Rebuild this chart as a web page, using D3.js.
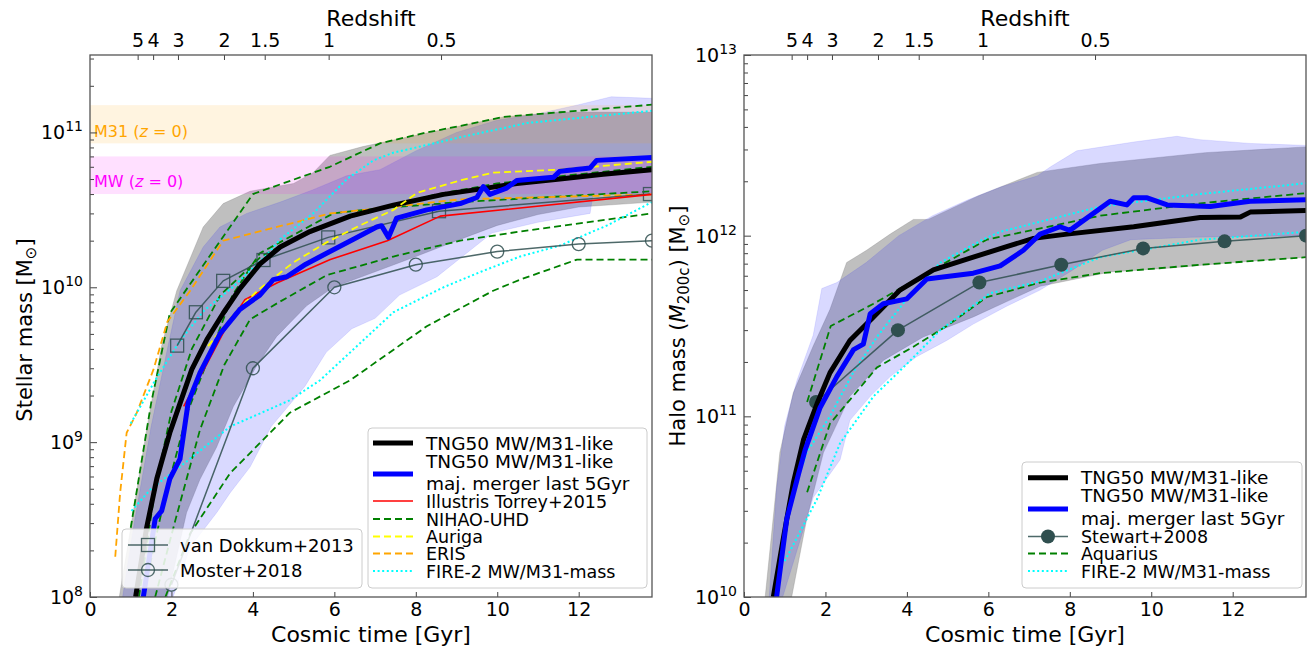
<!DOCTYPE html>
<html>
<head>
<meta charset="utf-8">
<script src="https://cdn.jsdelivr.net/npm/d3@7"></script>
<style>
  body { margin: 0; background: #fff; }
  svg text { font-family: "DejaVu Sans", sans-serif; }
</style>
</head>
<body>
<svg class="chart"></svg>
<script>
//-----------------------------------------------------------------------
// stellar mass + halo mass growth of MW/M31-like galaxies
//-----------------------------------------------------------------------

// ---------- redshift axis (top) ----------
const zLabels = ['5', '4', '3', '2', '1.5', '1', '0.5']
const zTimes  = [1.17, 1.55, 2.16, 3.29, 4.29, 5.86, 8.62]   // Gyr

// ---------- left panel: stellar mass [Msun] ----------
const tngTime  = [1.12, 1.39, 1.64, 1.96, 2.21, 2.5, 2.87, 3.27, 3.68, 4.17, 4.67, 5.4, 6.39, 7.45, 8.68, 9.74, 10.48, 11.54, 12.6, 13.8]
const tngMstar = [1.0e8, 2.8e8, 5.8e8, 1.15e9, 1.78e9, 2.95e9, 4.6e9, 6.8e9, 9.8e9, 1.41e10, 1.82e10, 2.29e10, 2.88e10, 3.39e10, 3.98e10, 4.37e10, 4.68e10, 5.0e10, 5.37e10, 5.75e10]

const mergerTime  = [1.31, 1.6, 1.76, 1.96, 2.21, 2.41, 2.7, 3.19, 3.68, 4.17, 4.5, 4.83, 5.3, 5.81, 6.47, 7.04, 7.16, 7.33, 7.53, 8.27, 9.09, 9.5, 9.66, 9.82, 10.23, 10.48, 11.38, 11.54, 12.28, 12.44, 13.8]
const mergerMstar = [1.0e8, 3.2e8, 3.6e8, 5.8e8, 7.8e8, 1.8e9, 2.8e9, 5.0e9, 7.2e9, 8.9e9, 1.12e10, 1.17e10, 1.41e10, 1.66e10, 2.04e10, 2.45e10, 2.5e10, 2.1e10, 2.8e10, 3.16e10, 3.47e10, 3.8e10, 4.47e10, 3.98e10, 4.37e10, 4.9e10, 5.13e10, 5.62e10, 5.9e10, 6.6e10, 6.9e10]

// 16-84 percentile envelopes
const tngBandTopTime = [0.72, 1.06, 1.39, 1.76, 2.13, 2.78, 3.27, 3.93, 5.0, 5.48, 5.89, 6.7, 7.86, 9.09, 10.15, 11.54, 13.8]
const tngBandTop     = [1.0e8, 3.5e8, 1.2e9, 4.2e9, 9.5e9, 2.45e10, 3.47e10, 4.17e10, 4.68e10, 5.5e10, 7.1e10, 8.1e10, 9.4e10, 1.1e11, 1.26e11, 1.35e11, 1.35e11]
const tngBandBotTime = [1.9, 2.37, 2.7, 3.11, 3.52, 4.09, 4.58, 5.32, 5.97, 7.0, 8.0, 9.0, 10.0, 11.0, 12.0, 13.8]
const tngBandBot     = [1.0e8, 3.5e8, 5.75e8, 9.3e8, 1.7e9, 3.1e9, 4.8e9, 7.6e9, 1.0e10, 1.26e10, 1.58e10, 2.0e10, 2.51e10, 2.95e10, 3.3e10, 3.55e10]

const mergerBandTopTime = [0.8, 1.1, 1.5, 1.9, 2.21, 2.78, 3.19, 3.85, 4.67, 5.48, 6.3, 7.12, 8.0, 9.0, 10.0, 11.0, 12.0, 12.8, 13.8]
const mergerBandTop     = [1.0e8, 3.16e8, 1.26e9, 4.0e9, 9.5e9, 1.82e10, 2.45e10, 3.0e10, 3.55e10, 4.27e10, 5.25e10, 5.75e10, 7.6e10, 1.0e11, 1.2e11, 1.32e11, 1.51e11, 1.7e11, 1.66e11]
const mergerBandBotTime = [2.04, 2.46, 3.11, 3.44, 3.93, 4.45, 5.28, 5.8, 6.43, 7.0, 7.6, 8.52, 9.87, 11.0, 12.28, 12.35, 13.8]
const mergerBandBot     = [1.0e8, 2.1e8, 3.5e8, 4.7e8, 6.9e8, 1.26e9, 2.3e9, 3.8e9, 5.4e9, 6.3e9, 8.9e9, 1.17e10, 2.24e10, 2.63e10, 3.0e10, 3.98e10, 4.07e10]

// present day MW / M31 stellar mass ranges
const m31Range = [8.5e10, 1.5e11]
const mwRange  = [4.0e10, 7.0e10]

const illustrisTime  = [2.3, 2.8, 3.3, 3.8, 4.6, 5.9, 7.3, 8.6, 13.8]
const illustrisMstar = [1.7e9, 2.95e9, 5.25e9, 8.3e9, 1.07e10, 1.51e10, 2.0e10, 2.88e10, 3.98e10]

const nihaoTimes = [
  [1.0, 1.5, 1.96, 4.0, 5.89, 7.12, 8.27, 9.09, 10.15, 11.54, 13.8],
  [1.2, 1.6, 2.0, 2.5, 3.2, 4.2, 5.5, 7.0, 8.5, 10.0, 12.0, 13.8],
  [1.3, 1.8, 2.4, 3.0, 3.5, 4.17, 5.97, 7.12, 9.09, 13.8],
  [1.6, 2.1, 2.7, 3.3, 3.93, 4.6, 5.82, 7.45, 9.09, 10.56, 13.8],
  [1.85, 2.46, 3.44, 4.91, 6.39, 8.27, 9.9, 10.56, 11.96, 13.8]
]
const nihaoMstar = [
  [2.8e8, 1.78e9, 6.8e9, 4.0e10, 6.0e10, 8.5e10, 1.0e11, 1.1e11, 1.26e11, 1.35e11, 1.51e11],
  [1.0e8, 5.0e8, 1.58e9, 4.0e9, 8.9e9, 1.58e10, 2.4e10, 3.16e10, 3.98e10, 4.68e10, 5.37e10, 6.0e10],
  [1.0e8, 4.0e8, 1.58e9, 4.0e9, 8.9e9, 1.66e10, 3.0e10, 3.24e10, 3.55e10, 4.17e10],
  [1.0e8, 3.16e8, 1.2e9, 3.16e9, 6.2e9, 7.9e9, 1.2e10, 1.58e10, 2.0e10, 2.29e10, 3.0e10],
  [1.0e8, 2.57e8, 6.3e8, 1.55e9, 2.51e9, 5.6e9, 9.5e9, 1.12e10, 1.51e10, 1.51e10]
]

const aurigaTime  = [2.9, 3.6, 4.17, 5.0, 5.81, 6.63, 7.45, 8.03, 9.09, 9.9, 11.5, 13.8]
const aurigaMstar = [4.17e9, 7.08e9, 9.8e9, 1.45e10, 1.95e10, 2.51e10, 3.16e10, 4.07e10, 4.9e10, 5.5e10, 5.75e10, 6.46e10]

const erisTime  = [0.62, 0.74, 0.9, 1.15, 1.56, 1.9, 2.46, 3.27, 5.9, 7.1, 9.1, 13.8]
const erisMstar = [1.82e8, 4.7e8, 1.15e9, 1.55e9, 2.95e9, 6.0e9, 9.5e9, 2.0e10, 3.0e10, 3.24e10, 3.7e10, 3.98e10]

const fireStarTimes = [
  [1.0, 1.6, 2.2, 2.8, 3.5, 4.3, 4.67, 5.48, 6.31, 6.96, 7.45, 9.09, 10.73, 13.8],
  [1.02, 1.5, 2.2, 3.44, 4.9, 5.65, 6.39, 7.45, 8.68, 9.6, 10.56, 11.54, 12.7, 13.8]
]
const fireStarMass = [
  [1.32e9, 2.51e9, 4.47e9, 7.08e9, 1.0e10, 1.58e10, 2.04e10, 3.0e10, 5.0e10, 6.6e10, 7.4e10, 9.3e10, 1.15e11, 1.38e11],
  [3.6e8, 5.0e8, 6.9e8, 1.26e9, 1.86e9, 2.51e9, 3.8e9, 6.9e9, 1.0e10, 1.26e10, 1.58e10, 1.86e10, 2.51e10, 3.55e10]
]

const vanDokkumTime  = [2.14, 2.6, 3.27, 4.26, 5.85, 8.57, 13.75]
const vanDokkumMstar = [4.2e9, 6.9e9, 1.1e10, 1.5e10, 2.1e10, 3.1e10, 4.0e10]

const mosterTime  = [2.0, 4.0, 6.0, 8.0, 10.0, 12.0, 13.8]
const mosterMstar = [1.2e8, 3.0e9, 1.0e10, 1.4e10, 1.7e10, 1.9e10, 2.0e10]

// ---------- right panel: halo mass M200c [Msun] ----------
const tngHaloTime = [0.72, 0.97, 1.21, 1.46, 1.79, 2.11, 2.6, 3.18, 3.83, 4.65, 5.63, 6.45, 7.11, 7.93, 9.57, 11.2, 12.19, 12.43, 13.8]
const tngHalo     = [1.0e10, 2.14e10, 4.27e10, 7.4e10, 1.17e11, 1.74e11, 2.63e11, 3.55e11, 5.0e11, 6.46e11, 7.6e11, 8.7e11, 9.66e11, 1.02e12, 1.12e12, 1.26e12, 1.27e12, 1.35e12, 1.38e12]

const mergerHaloTime = [0.8, 1.05, 1.34, 1.5, 1.87, 2.28, 2.69, 2.93, 3.1, 3.42, 4.0, 4.49, 5.63, 6.29, 6.86, 7.27, 7.76, 8.0, 8.99, 9.4, 9.57, 9.9, 10.39, 11.45, 12.43, 13.8]
const mergerHalo     = [1.0e10, 2.7e10, 4.8e10, 6.5e10, 1.12e11, 1.66e11, 2.34e11, 2.51e11, 3.7e11, 4.2e11, 4.47e11, 5.75e11, 6.2e11, 6.8e11, 8.3e11, 1.02e12, 1.12e12, 1.07e12, 1.55e12, 1.48e12, 1.62e12, 1.62e12, 1.48e12, 1.45e12, 1.55e12, 1.58e12]

const tngHaloTopTime = [0.52, 0.88, 1.21, 1.7, 2.11, 2.52, 3.01, 3.59, 4.16, 4.52, 5.75, 7.2, 8.75, 11.33, 13.8]
const tngHaloTop     = [1.0e10, 6.3e10, 1.35e11, 2.45e11, 3.9e11, 7.1e11, 8.3e11, 1.02e12, 1.23e12, 1.23e12, 1.66e12, 2.24e12, 2.51e12, 2.88e12, 3.1e12]
const tngHaloBotTime = [1.17, 1.54, 1.95, 2.6, 3.42, 4.4, 5.63, 7.27, 9.0, 10.4, 12.0, 13.8]
const tngHaloBot     = [1.0e10, 2.7e10, 6.3e10, 1.29e11, 2.04e11, 2.75e11, 3.55e11, 5.25e11, 6.3e11, 6.6e11, 7.1e11, 7.6e11]

const mergerHaloTopTime = [0.62, 0.8, 1.0, 1.3, 1.7, 1.91, 2.28, 3.0, 3.8, 4.63, 5.5, 6.3, 7.2, 7.52, 8.17, 9.57, 10.63, 11.2, 12.43, 13.8]
const mergerHaloTop     = [1.0e10, 4.0e10, 8.9e10, 1.58e11, 2.82e11, 5.1e11, 5.5e11, 7.1e11, 1.0e12, 1.29e12, 1.58e12, 1.86e12, 2.14e12, 2.4e12, 2.95e12, 3.3e12, 3.55e12, 3.4e12, 3.24e12, 3.16e12]
const mergerHaloBotTime = [0.95, 1.7, 2.36, 2.6, 3.1, 3.59, 4.24, 4.98, 5.63, 6.45, 7.27, 8.0, 8.8, 9.5, 11.0, 13.8]
const mergerHaloBot     = [1.0e10, 3.55e10, 5.75e10, 9.5e10, 1.29e11, 1.66e11, 2.14e11, 2.63e11, 3.24e11, 4.07e11, 5.0e11, 6.3e11, 8.3e11, 9.5e11, 9.8e11, 1.0e12]

const stewartTime = [1.77, 3.78, 5.78, 7.79, 9.8, 11.8, 13.8]
const stewartHalo = [1.2e11, 3.0e11, 5.5e11, 6.9e11, 8.5e11, 9.3e11, 1.0e12]

const aquariusTimes = [
  [1.55, 2.13, 3.18, 4.49, 5.96, 8.75, 11.2, 13.8],
  [1.55, 2.11, 3.26, 4.16, 4.98, 5.96, 7.27, 8.75, 11.2, 13.8]
]
const aquariusHalo = [
  [1.2e11, 3.16e11, 4.2e11, 6.2e11, 9.5e11, 1.29e12, 1.51e12, 1.72e12],
  [3.8e10, 9.1e10, 1.86e11, 2.43e11, 3.16e11, 4.57e11, 5.5e11, 6.2e11, 6.9e11, 7.6e11]
]

const fireHaloTimes = [
  [1.05, 1.54, 2.11, 2.7, 3.3, 4.0, 4.82, 5.86, 6.29, 8.75, 11.2, 13.8],
  [1.0, 1.79, 2.36, 3.18, 4.0, 4.82, 6.04, 7.27, 8.75, 11.2, 13.8]
]
const fireHalo = [
  [3.0e10, 6.3e10, 1.0e11, 1.78e11, 2.82e11, 4.47e11, 7.1e11, 9.5e11, 1.05e12, 1.45e12, 1.7e12, 1.95e12],
  [1.58e10, 3.47e10, 7.1e10, 1.29e11, 1.95e11, 3.0e11, 4.8e11, 5.6e11, 7.6e11, 9.5e11, 1.05e12]
]

//-----------------------------------------------------------------------
// svg + scales
//-----------------------------------------------------------------------
const width = 1311
const height = 652
const plotTop = 55, plotBottom = 597
const tMax = 13.8

const svg = d3.select('svg.chart').attr('width', width).attr('height', height)

const xL = d3.scaleLinear().domain([0, tMax]).range([90, 652])
const yL = d3.scaleLog().domain([1e8, Math.pow(10, 11.5)]).range([plotBottom, plotTop])
const xR = d3.scaleLinear().domain([0, tMax]).range([744, 1306])
const yR = d3.scaleLog().domain([1e10, 1e13]).range([plotBottom, plotTop])

const styles = {
  tng:    {color: '#000000', width: 5},
  merger: {color: '#0000ff', width: 5},
  illus:  {color: '#ff0000', width: 1.6},
  nihao:  {color: '#008000', width: 1.8, dash: '7,4'},
  auriga: {color: '#ffff00', width: 1.8, dash: '7,4'},
  eris:   {color: '#ffa500', width: 1.8, dash: '7,4'},
  fire:   {color: '#00ffff', width: 2, dash: '2,2.6'},
  obs:    {color: '#2f4f4f', width: 1.5}
}

const zip = (ts, ms) => ts.map((t, i) => [t, ms[i]])

function drawLine(g, x, y, ts, ms, st) {
  g.append('path')
    .datum(zip(ts, ms))
    .attr('d', d3.line().x(d => x(d[0])).y(d => y(d[1])))
    .attr('fill', 'none')
    .attr('stroke', st.color)
    .attr('stroke-width', st.width)
    .attr('stroke-dasharray', st.dash || null)
    .attr('stroke-linejoin', 'round')
    .attr('opacity', st.opacity || 1)
}

function drawBand(g, x, y, tTop, mTop, tBot, mBot, fill, alpha) {
  const poly = zip(tTop, mTop).concat(zip(tBot, mBot).reverse())
  g.append('path')
    .attr('d', d3.line().x(d => x(d[0])).y(d => y(d[1]))(poly) + 'Z')
    .attr('fill', fill)
    .attr('fill-opacity', alpha)
    .attr('stroke', fill)
    .attr('stroke-opacity', alpha * 0.6)
    .attr('stroke-width', 1)
}

function panel(id, x) {
  svg.append('clipPath').attr('id', id)
    .append('rect')
    .attr('x', x.range()[0]).attr('y', plotTop)
    .attr('width', x.range()[1] - x.range()[0]).attr('height', plotBottom - plotTop)
  return svg.append('g').attr('clip-path', `url(#${id})`)
}

//-----------------------------------------------------------------------
// axes + frame
//-----------------------------------------------------------------------
function axes(x, y, exps) {
  const [x0, x1] = x.range()

  // bottom: cosmic time
  const gb = svg.append('g').attr('transform', `translate(0,${plotBottom})`)
    .call(d3.axisBottom(x).tickValues(d3.range(0, 13, 2)).tickSize(-5).tickPadding(6).tickFormat(d3.format('d')))
  gb.select('.domain').remove()
  gb.selectAll('text').attr('font-size', 19).attr('fill', '#000').style('font-family', 'DejaVu Sans')

  // top: redshift
  const gt = svg.append('g').attr('transform', `translate(0,${plotTop})`)
    .call(d3.axisTop(x).tickValues(zTimes).tickSize(-5).tickPadding(8).tickFormat((d, i) => zLabels[i]))
  gt.select('.domain').remove()
  gt.selectAll('text').attr('font-size', 19).attr('fill', '#000').style('font-family', 'DejaVu Sans')

  // left: log ticks, majors + minors
  const lo = Math.round(Math.log10(y.domain()[0]))
  const hi = Math.log10(y.domain()[1])
  const minors = []
  for (let e = lo; e < hi; e++) {
    for (let k = 2; k <= 9; k++) {
      if (Math.log10(k) + e <= hi) minors.push(k * Math.pow(10, e))
    }
  }
  const gl = svg.append('g').attr('transform', `translate(${x0},0)`)
    .call(d3.axisLeft(y).tickValues(exps.map(e => Math.pow(10, e))).tickSize(-7).tickFormat(''))
  gl.select('.domain').remove()
  const gm = svg.append('g').attr('transform', `translate(${x0},0)`)
    .call(d3.axisLeft(y).tickValues(minors).tickSize(-4).tickFormat(''))
  gm.select('.domain').remove()

  svg.selectAll('.tick line').attr('stroke', '#444').attr('stroke-width', 1)

  const lab = svg.append('g').selectAll('text')
    .data(exps).enter()
    .append('text')
    .attr('x', x0 - 7)
    .attr('y', e => y(Math.pow(10, e)) + 7)
    .attr('text-anchor', 'end')
    .attr('font-size', 19)
  lab.append('tspan').text('10')
  lab.append('tspan').attr('dy', -8).attr('font-size', 14).text(e => e)

  // spines
  svg.append('rect')
    .attr('x', x0).attr('y', plotTop)
    .attr('width', x1 - x0).attr('height', plotBottom - plotTop)
    .attr('fill', 'none').attr('stroke', '#555').attr('stroke-width', 1.3)

  // titles
  svg.append('text').attr('x', (x0 + x1) / 2).attr('y', 642)
    .attr('text-anchor', 'middle').attr('font-size', 22).text('Cosmic time [Gyr]')
  svg.append('text').attr('x', (x0 + x1) / 2).attr('y', 26)
    .attr('text-anchor', 'middle').attr('font-size', 22).text('Redshift')
}

//-----------------------------------------------------------------------
// legends
//-----------------------------------------------------------------------
function drawMarker(g, cx, cy, kind) {
  if (kind === 'square') {
    g.append('rect').attr('x', cx - 6.5).attr('y', cy - 6.5).attr('width', 13).attr('height', 13)
      .attr('fill', 'none').attr('stroke', styles.obs.color).attr('stroke-width', 1.3).attr('opacity', 0.85)
  } else if (kind === 'circle') {
    g.append('circle').attr('cx', cx).attr('cy', cy).attr('r', 6.5)
      .attr('fill', 'none').attr('stroke', styles.obs.color).attr('stroke-width', 1.3).attr('opacity', 0.85)
  } else {
    g.append('circle').attr('cx', cx).attr('cy', cy).attr('r', 7)
      .attr('fill', styles.obs.color).attr('stroke', 'none')
  }
}

function swatch(g, x0, yy, st, marker) {
  g.append('line')
    .attr('x1', x0).attr('x2', x0 + 40).attr('y1', yy).attr('y2', yy)
    .attr('stroke', st.color).attr('stroke-width', st.width)
    .attr('stroke-dasharray', st.dash || null)
    .attr('opacity', st.opacity || 1)
  if (marker) drawMarker(g, x0 + 20, yy, marker)
}

function legend(box, entries, swX, textX) {
  const g = svg.append('g')
  g.append('rect')
    .attr('x', box[0]).attr('y', box[1]).attr('width', box[2] - box[0]).attr('height', box[3] - box[1])
    .attr('rx', 4).attr('fill', '#fff').attr('fill-opacity', 0.85)
    .attr('stroke', '#cccccc').attr('stroke-width', 1)
  entries.forEach(e => {
    swatch(g, swX, e.sy, e.st, e.marker)
    e.lines.forEach((l, i) => {
      g.append('text').attr('x', textX).attr('y', e.ty[i] + 6.5)
        .attr('font-size', e.fs || 18.5).text(l)
    })
  })
}

//-----------------------------------------------------------------------
// LEFT PANEL
//-----------------------------------------------------------------------
const gL = panel('clipL', xL)

drawBand(gL, xL, yL, tngBandTopTime, tngBandTop, tngBandBotTime, tngBandBot, '#808080', 0.5)
drawBand(gL, xL, yL, mergerBandTopTime, mergerBandTop, mergerBandBotTime, mergerBandBot, '#0000ff', 0.15)

// MW / M31 z=0 ranges
gL.append('rect')
  .attr('x', xL(0)).attr('width', xL(tMax) - xL(0))
  .attr('y', yL(m31Range[1])).attr('height', yL(m31Range[0]) - yL(m31Range[1]))
  .attr('fill', '#ffa500').attr('fill-opacity', 0.12)
gL.append('rect')
  .attr('x', xL(0)).attr('width', xL(tMax) - xL(0))
  .attr('y', yL(mwRange[1])).attr('height', yL(mwRange[0]) - yL(mwRange[1]))
  .attr('fill', '#ff00ff').attr('fill-opacity', 0.12)

nihaoTimes.forEach((ts, i) => drawLine(gL, xL, yL, ts, nihaoMstar[i], styles.nihao))
drawLine(gL, xL, yL, erisTime, erisMstar, styles.eris)
fireStarTimes.forEach((ts, i) => drawLine(gL, xL, yL, ts, fireStarMass[i], styles.fire))

const obsSt = Object.assign({}, styles.obs, {opacity: 0.85})
drawLine(gL, xL, yL, vanDokkumTime, vanDokkumMstar, obsSt)
drawLine(gL, xL, yL, mosterTime, mosterMstar, obsSt)
vanDokkumTime.forEach((t, i) => drawMarker(gL, xL(t), yL(vanDokkumMstar[i]), 'square'))
mosterTime.forEach((t, i) => drawMarker(gL, xL(t), yL(mosterMstar[i]), 'circle'))

drawLine(gL, xL, yL, illustrisTime, illustrisMstar, styles.illus)
drawLine(gL, xL, yL, tngTime, tngMstar, styles.tng)
drawLine(gL, xL, yL, aurigaTime, aurigaMstar, styles.auriga)
drawLine(gL, xL, yL, mergerTime, mergerMstar, styles.merger)

const m31Lab = svg.append('text').attr('x', 94).attr('y', 136.5).attr('font-size', 16).attr('fill', '#ffa500')
m31Lab.append('tspan').text('M31 (')
m31Lab.append('tspan').attr('font-style', 'italic').text('z')
m31Lab.append('tspan').text(' = 0)')
const mwLab = svg.append('text').attr('x', 94).attr('y', 186.5).attr('font-size', 16).attr('fill', '#ff00ff')
mwLab.append('tspan').text('MW (')
mwLab.append('tspan').attr('font-style', 'italic').text('z')
mwLab.append('tspan').text(' = 0)')

axes(xL, yL, [8, 9, 10, 11])

const ylabL = svg.append('text')
  .attr('transform', 'translate(32,330) rotate(-90)')
  .attr('text-anchor', 'middle').attr('font-size', 21)
ylabL.append('tspan').text('Stellar mass [M')
ylabL.append('tspan').attr('font-size', 15).attr('dy', 4).text('⊙')
ylabL.append('tspan').attr('dy', -4).text(']')

legend([122, 529, 362, 588], [
  {lines: ['van Dokkum+2013'], ty: [545], sy: 545, st: obsSt, marker: 'square', fs: 18},
  {lines: ['Moster+2018'], ty: [570], sy: 570, st: obsSt, marker: 'circle', fs: 18}
], 128, 180)

legend([368, 428, 647, 588], [
  {lines: ['TNG50 MW/M31-like'], ty: [443], sy: 443, st: styles.tng},
  {lines: ['TNG50 MW/M31-like', 'maj. merger last 5Gyr'], ty: [461.7, 483], sy: 474, st: styles.merger},
  {lines: ['Illustris Torrey+2015'], ty: [501], sy: 501, st: styles.illus, fs: 17.5},
  {lines: ['NIHAO-UHD'], ty: [519], sy: 519, st: styles.nihao, fs: 17.5},
  {lines: ['Auriga'], ty: [536.5], sy: 536.5, st: styles.auriga, fs: 17.5},
  {lines: ['ERIS'], ty: [553.5], sy: 553.5, st: styles.eris, fs: 17.5},
  {lines: ['FIRE-2 MW/M31-mass'], ty: [571], sy: 571, st: styles.fire, fs: 17.5}
], 373, 426)

//-----------------------------------------------------------------------
// RIGHT PANEL
//-----------------------------------------------------------------------
const gR = panel('clipR', xR)

drawBand(gR, xR, yR, tngHaloTopTime, tngHaloTop, tngHaloBotTime, tngHaloBot, '#808080', 0.5)
drawBand(gR, xR, yR, mergerHaloTopTime, mergerHaloTop, mergerHaloBotTime, mergerHaloBot, '#0000ff', 0.15)

aquariusTimes.forEach((ts, i) => drawLine(gR, xR, yR, ts, aquariusHalo[i], styles.nihao))
fireHaloTimes.forEach((ts, i) => drawLine(gR, xR, yR, ts, fireHalo[i], styles.fire))
drawLine(gR, xR, yR, stewartTime, stewartHalo, obsSt)
stewartTime.forEach((t, i) => drawMarker(gR, xR(t), yR(stewartHalo[i]), 'filled'))
drawLine(gR, xR, yR, tngHaloTime, tngHalo, styles.tng)
drawLine(gR, xR, yR, mergerHaloTime, mergerHalo, styles.merger)

axes(xR, yR, [10, 11, 12, 13])

const ylabR = svg.append('text')
  .attr('transform', 'translate(685,326) rotate(-90)')
  .attr('text-anchor', 'middle').attr('font-size', 21)
ylabR.append('tspan').text('Halo mass (')
ylabR.append('tspan').attr('font-style', 'italic').text('M')
ylabR.append('tspan').attr('font-size', 15).attr('dy', 4).text('200c')
ylabR.append('tspan').attr('dy', -4).text(') [M')
ylabR.append('tspan').attr('font-size', 15).attr('dy', 4).text('⊙')
ylabR.append('tspan').attr('dy', -4).text(']')

legend([1022, 462, 1302, 588], [
  {lines: ['TNG50 MW/M31-like'], ty: [477.7], sy: 477.7, st: styles.tng},
  {lines: ['TNG50 MW/M31-like', 'maj. merger last 5Gyr'], ty: [495.7, 518], sy: 509, st: styles.merger},
  {lines: ['Stewart+2008'], ty: [536.5], sy: 536.5, st: obsSt, marker: 'filled', fs: 17.5},
  {lines: ['Aquarius'], ty: [553.5], sy: 553.5, st: styles.nihao, fs: 17.5},
  {lines: ['FIRE-2 MW/M31-mass'], ty: [571], sy: 571, st: styles.fire, fs: 17.5}
], 1028, 1081)
</script>
</body>
</html>
